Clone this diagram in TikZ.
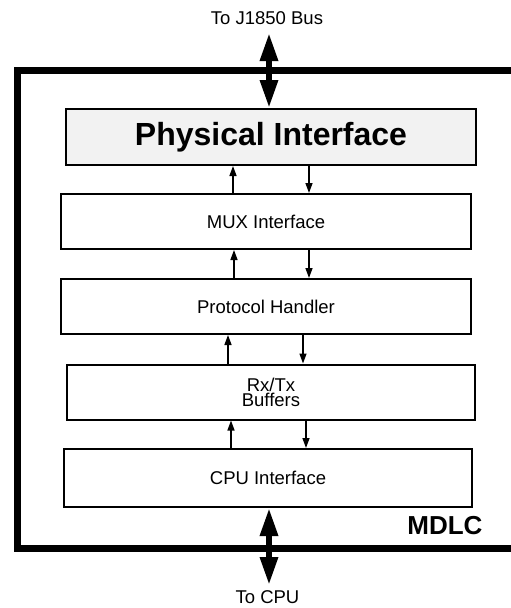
\documentclass[tikz,border=0pt]{standalone}
\usepackage{fontspec}
\setmainfont{Liberation Sans}
\usetikzlibrary{arrows.meta}

\begin{document}
\begin{tikzpicture}[x=1pt,y=-1pt,
  blk/.style={draw,line width=2pt,minimum width=410pt,minimum height=55pt,inner sep=0pt,
    font=\fontsize{18.5}{15}\selectfont,align=center},
  sig/.style={line width=1.4pt,-{Triangle[width=7pt,length=10pt]}},
  busarrow/.style={line width=6pt,{Triangle[width=17pt,length=28pt]}-{Triangle[width=17pt,length=28pt]}},
  lbl/.style={font=\fontsize{18.5}{22}\selectfont}]
\useasboundingbox (0,0) rectangle (511,608);
% outer MDLC frame
\draw[line width=7pt] (511,70) -- (17,70) -- (17,548) -- (511,548);
\node[anchor=base east,font=\fontsize{26}{30}\selectfont\bfseries] (mdlc) at (486,534) {MDLC};
% blocks
\node[blk,fill=black!5,minimum height=56pt,font=\fontsize{32}{36}\selectfont\bfseries] (phys) at (271,137) {Physical Interface};
\node[blk] (mux) at (266,221.5) {\raisebox{-6pt}{MUX Interface}};
\node[blk] (proto) at (266,306.5) {Protocol Handler};
\node[blk,minimum width=408pt] (buf) at (271,392) {Rx/Tx\\Buffers};
\node[blk,minimum width=408pt,minimum height=58pt] (cpu) at (268,478) {CPU Interface};
% signals between blocks
\draw[sig] (233,0 |- mux.north) -- (233,0 |- phys.south);
\draw[sig] (309,0 |- phys.south) -- (309,0 |- mux.north);
\draw[sig] (234,0 |- proto.north) -- (234,0 |- mux.south);
\draw[sig] (309,0 |- mux.south) -- (309,0 |- proto.north);
\draw[sig] (228,0 |- buf.north) -- (228,0 |- proto.south);
\draw[sig] (303,0 |- proto.south) -- (303,0 |- buf.north);
\draw[sig] (231,0 |- cpu.north) -- (231,0 |- buf.south);
\draw[sig] (306,0 |- buf.south) -- (306,0 |- cpu.north);
% external buses
\node[lbl] (bus) at (267,18) {To J1850 Bus};
\node[lbl] (host) at (267.5,597) {To CPU};
\coordinate (bustip) at (269,33);
\coordinate (hosttip) at (269,585);
\draw[busarrow] (bustip) -- (bustip |- phys.north);
\draw[busarrow] (hosttip |- cpu.south) -- (hosttip);
\end{tikzpicture}
\end{document}
